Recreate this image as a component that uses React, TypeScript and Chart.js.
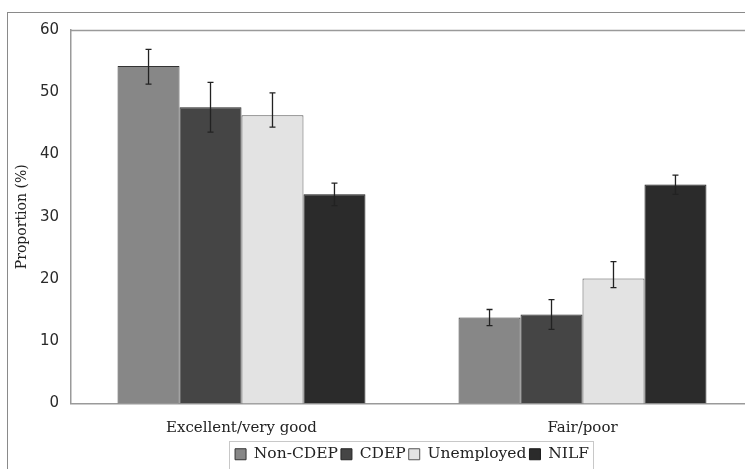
import React, { useEffect, useRef } from "react";
import { Chart, registerables } from "chart.js";
Chart.register(...registerables);

const categories = ["Excellent/very good", "Fair/poor"];
const seriesNames = ["Non-CDEP", "CDEP", "Unemployed", "NILF"];

const nonCdepValues = [54.2, 13.8];
const cdepValues = [47.6, 14.3];
const unemployedValues = [46.3, 20.1];
const nilfValues = [33.6, 35.2];

const nonCdepLow = [51.3, 12.5];
const nonCdepHigh = [56.9, 15.1];
const cdepLow = [43.6, 11.9];
const cdepHigh = [51.6, 16.7];
const unemployedLow = [44.4, 18.6];
const unemployedHigh = [49.9, 22.8];
const nilfLow = [31.8, 33.6];
const nilfHigh = [35.4, 36.7];

const yTicks = [0, 10, 20, 30, 40, 50, 60];

const seriesValues = [nonCdepValues, cdepValues, unemployedValues, nilfValues];
const seriesLow = [nonCdepLow, cdepLow, unemployedLow, nilfLow];
const seriesHigh = [nonCdepHigh, cdepHigh, unemployedHigh, nilfHigh];
const fills = ["#878787", "#454545", "#e3e3e3", "#2b2b2b"];
const borders = ["#333333", "#262626", "#555555", "#1a1a1a"];

const decorPlugin = {
  id: "decor",
  afterDatasetsDraw(chart: any) {
    const ctx = chart.ctx;
    const y = chart.scales.y;
    ctx.save();
    ctx.strokeStyle = "#222";
    ctx.lineWidth = 1.3;
    chart.data.datasets.forEach((ds: any, di: number) => {
      const meta = chart.getDatasetMeta(di);
      meta.data.forEach((bar: any, i: number) => {
        const x = bar.x;
        const yl = y.getPixelForValue(ds.errLow[i]);
        const yh = y.getPixelForValue(ds.errHigh[i]);
        ctx.beginPath();
        ctx.moveTo(x, yl);
        ctx.lineTo(x, yh);
        ctx.moveTo(x - 3, yl);
        ctx.lineTo(x + 3, yl);
        ctx.moveTo(x - 3, yh);
        ctx.lineTo(x + 3, yh);
        ctx.stroke();
      });
    });
    ctx.restore();
  },
  afterDraw(chart: any) {
    const ctx = chart.ctx;
    const a = chart.chartArea;
    ctx.save();
    ctx.strokeStyle = "#9a9a9a";
    ctx.lineWidth = 1.5;
    ctx.beginPath();
    ctx.moveTo(a.left, a.top + 0.5);
    ctx.lineTo(a.right, a.top + 0.5);
    ctx.stroke();
    const lg = chart.legend;
    if (lg && lg.legendHitBoxes && lg.legendHitBoxes.length) {
      const hb = lg.legendHitBoxes;
      let minX = Infinity, maxX = -Infinity, minY = Infinity, maxY = -Infinity;
      hb.forEach((h: any) => {
        minX = Math.min(minX, h.left);
        maxX = Math.max(maxX, h.left + h.width);
        minY = Math.min(minY, h.top);
        maxY = Math.max(maxY, h.top + h.height);
      });
      ctx.strokeStyle = "#c8c8c8";
      ctx.lineWidth = 1;
      ctx.strokeRect(Math.round(minX - 6) + 0.5, Math.round(minY - 6) + 0.5, Math.round(maxX - minX + 10), Math.round(maxY - minY + 12));
    }
    ctx.restore();
  },
};

export default function App() {
  const ref = useRef<HTMLCanvasElement | null>(null);
  useEffect(() => {
    document.body.style.margin = "0";
    const canvas = ref.current;
    if (!canvas) return;
    const chart = new Chart(canvas, {
      type: "bar",
      data: {
        labels: categories,
        datasets: seriesNames.map((name, i) => ({
          label: name,
          data: seriesValues[i],
          errLow: seriesLow[i],
          errHigh: seriesHigh[i],
          backgroundColor: fills[i],
          borderColor: borders[i],
          borderWidth: 1,
          barPercentage: 1,
          categoryPercentage: 0.727,
        })) as any,
      },
      options: {
        animation: false,
        responsive: false,
        devicePixelRatio: 1,
        layout: { padding: { top: 30, left: 10, right: 7, bottom: 1 } },
        plugins: {
          tooltip: { enabled: false },
          legend: {
            position: "bottom",
            fullSize: false,
            labels: {
              font: { family: "DejaVu Serif", size: 15.5 },
              color: "#222",
              boxWidth: 11,
              boxHeight: 11,
              padding: 3,
            },
          },
        },
        scales: {
          x: {
            afterFit: (s: any) => {
              s.height = 40;
            },
            grid: { display: false, drawTicks: false },
            border: { display: true, color: "#9a9a9a", width: 1.5 },
            ticks: {
              font: { family: "DejaVu Serif", size: 15 },
              color: "#222",
              padding: 16,
            },
          },
          y: {
            min: 0,
            max: 60,
            afterFit: (s: any) => {
              s.width = 61;
            },
            afterBuildTicks: (s: any) => {
              s.ticks = yTicks.map((v) => ({ value: v }));
            },
            grid: { display: false, drawTicks: false },
            border: { display: true, color: "#9a9a9a", width: 1.5 },
            ticks: {
              font: { family: "DejaVu Sans", size: 15 },
              color: "#2a2a2a",
              padding: 12,
            },
            title: {
              display: true,
              text: "Proportion (%)",
              font: { family: "DejaVu Serif", size: 14 },
              color: "#222",
              padding: { top: 4, bottom: 4 },
            },
          },
        },
      },
      plugins: [decorPlugin],
    });
    return () => chart.destroy();
  }, []);

  return (
    <div style={{ position: "relative", width: 745, height: 469, overflow: "hidden", background: "#fff" }}>
      <div
        style={{
          position: "absolute",
          left: 7,
          top: 12,
          width: 800,
          height: 500,
          borderTop: "1px solid #8a8a8a",
          borderLeft: "1px solid #8a8a8a",
        }}
      />
      <canvas ref={ref} width={760} height={473} style={{ position: "absolute", left: 0, top: 0 }} />
    </div>
  );
}
